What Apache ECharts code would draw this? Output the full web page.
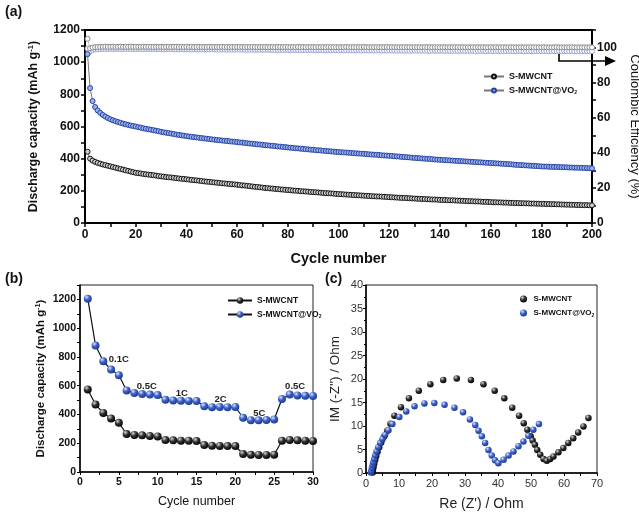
<!DOCTYPE html>
<html>
<head>
<meta charset="utf-8">
<script src="https://cdn.jsdelivr.net/npm/echarts@6/dist/echarts.min.js"></script>
<style>
  html, body { margin: 0; padding: 0; background: #fff; }
  #chart { width: 639px; height: 512px; }
</style>
</head>
<body>
<div id="chart"></div>
<script>
// (a) cycling at 200 cycles, capacity in mAh/g, one value per cycle
const capBare = [
  443, 400, 388, 380, 374, 369, 364, 360, 356, 352, 348, 344, 340, 336, 332, 328, 324, 320, 316, 312,
  310, 308, 305, 303, 301, 299, 297, 295, 292, 290, 288, 286, 284, 283, 281, 279, 277, 275, 274, 272,
  270, 268, 266, 265, 263, 261, 259, 257, 256, 254, 252, 251, 249, 247, 246, 244, 243, 241, 240, 238,
  236, 234, 233, 231, 229, 227, 225, 224, 222, 220, 218, 217, 215, 214, 212, 211, 209, 208, 206, 205,
  204, 202, 201, 200, 198, 197, 196, 195, 193, 192, 191, 190, 188, 187, 186, 185, 184, 183, 181, 180,
  179, 178, 177, 176, 175, 174, 173, 172, 171, 170, 169, 168, 167, 166, 165, 165, 164, 163, 162, 161,
  160, 159, 158, 157, 156, 156, 155, 154, 153, 152, 151, 150, 150, 149, 148, 147, 146, 146, 145, 144,
  143, 143, 142, 141, 141, 140, 139, 139, 138, 137, 136, 136, 135, 134, 134, 133, 132, 132, 131, 130,
  129, 129, 128, 128, 127, 127, 126, 125, 125, 124, 124, 123, 123, 122, 122, 121, 121, 120, 120, 119,
  119, 118, 118, 117, 117, 116, 116, 115, 115, 114, 114, 113, 113, 112, 112, 111, 111, 111, 110, 110
];
const capVO2 = [
  1050, 839, 758, 721, 700, 685, 672, 662, 653, 645, 639, 633, 628, 623, 618, 614, 610, 606, 603, 600,
  596, 593, 589, 586, 583, 580, 577, 574, 571, 567, 564, 561, 559, 556, 553, 550, 548, 545, 543, 540,
  538, 536, 534, 532, 530, 528, 526, 524, 522, 520, 518, 516, 515, 513, 511, 510, 508, 506, 505, 503,
  501, 500, 498, 496, 494, 493, 491, 489, 488, 486, 484, 483, 481, 480, 478, 476, 475, 473, 472, 470,
  468, 467, 465, 464, 462, 461, 459, 458, 456, 455, 453, 452, 451, 449, 448, 447, 445, 444, 442, 441,
  440, 439, 438, 437, 436, 434, 433, 432, 431, 430, 429, 427, 426, 425, 424, 423, 421, 420, 419, 418,
  417, 415, 414, 413, 411, 410, 409, 408, 406, 405, 404, 403, 401, 400, 399, 398, 397, 395, 394, 393,
  392, 391, 390, 389, 388, 387, 386, 385, 384, 383, 382, 381, 380, 379, 378, 377, 376, 375, 374, 373,
  372, 371, 370, 369, 368, 367, 366, 365, 363, 362, 361, 360, 359, 358, 357, 356, 355, 354, 353, 352,
  351, 351, 350, 349, 349, 348, 348, 347, 347, 346, 345, 345, 344, 344, 343, 343, 342, 341, 341, 340
];
// coulombic efficiency (%), right axis
const ceBare = [
  105.0, 99.6, 100.0, 100.2, 100.3, 100.4, 100.4, 100.5, 100.4, 100.4, 100.5, 100.4, 100.4, 100.5, 100.4, 100.4, 100.4, 100.5, 100.4, 100.4,
  100.4, 100.4, 100.5, 100.4, 100.4, 100.4, 100.3, 100.4, 100.4, 100.4, 100.3, 100.4, 100.4, 100.3, 100.4, 100.4, 100.3, 100.4, 100.3, 100.4,
  100.3, 100.4, 100.3, 100.3, 100.4, 100.3, 100.3, 100.3, 100.4, 100.3, 100.3, 100.3, 100.3, 100.4, 100.3, 100.3, 100.3, 100.3, 100.3, 100.3,
  100.3, 100.3, 100.2, 100.3, 100.3, 100.3, 100.3, 100.2, 100.3, 100.3, 100.3, 100.2, 100.3, 100.3, 100.2, 100.3, 100.3, 100.2, 100.3, 100.3,
  100.2, 100.3, 100.2, 100.3, 100.2, 100.3, 100.2, 100.2, 100.3, 100.2, 100.2, 100.3, 100.2, 100.2, 100.2, 100.3, 100.2, 100.2, 100.2, 100.2,
  100.2, 100.2, 100.3, 100.2, 100.2, 100.2, 100.2, 100.2, 100.2, 100.3, 100.2, 100.2, 100.2, 100.2, 100.2, 100.2, 100.2, 100.2, 100.3, 100.2,
  100.2, 100.2, 100.2, 100.1, 100.2, 100.2, 100.2, 100.2, 100.1, 100.2, 100.2, 100.2, 100.1, 100.2, 100.2, 100.2, 100.1, 100.2, 100.2, 100.1,
  100.2, 100.2, 100.1, 100.2, 100.1, 100.2, 100.2, 100.1, 100.2, 100.1, 100.2, 100.1, 100.2, 100.1, 100.2, 100.1, 100.2, 100.1, 100.1, 100.2,
  100.1, 100.2, 100.1, 100.1, 100.2, 100.1, 100.1, 100.2, 100.1, 100.1, 100.1, 100.2, 100.1, 100.1, 100.1, 100.2, 100.1, 100.1, 100.1, 100.1,
  100.2, 100.1, 100.1, 100.1, 100.1, 100.2, 100.1, 100.1, 100.1, 100.1, 100.1, 100.2, 100.1, 100.1, 100.1, 100.1, 100.1, 100.1, 100.2, 100.1
];
const ceVO2 = [
  99.4, 97.8, 98.6, 98.9, 99.0, 99.1, 99.2, 99.2, 99.2, 99.3, 99.2, 99.2, 99.3, 99.2, 99.2, 99.2, 99.3, 99.2, 99.2, 99.1,
  99.2, 99.2, 99.1, 99.2, 99.1, 99.1, 99.2, 99.1, 99.1, 99.1, 99.0, 99.1, 99.1, 99.0, 99.1, 99.0, 99.0, 99.1, 99.0, 99.0,
  99.0, 98.9, 99.0, 99.0, 98.9, 99.0, 98.9, 98.9, 98.9, 99.0, 98.9, 98.9, 98.8, 98.9, 98.9, 98.8, 98.9, 98.8, 98.8, 98.9,
  98.8, 98.8, 98.8, 98.7, 98.8, 98.8, 98.7, 98.8, 98.7, 98.7, 98.7, 98.8, 98.7, 98.7, 98.6, 98.7, 98.7, 98.6, 98.7, 98.6,
  98.6, 98.7, 98.6, 98.6, 98.6, 98.5, 98.6, 98.6, 98.5, 98.6, 98.5, 98.5, 98.6, 98.5, 98.5, 98.5, 98.4, 98.5, 98.5, 98.4,
  98.5, 98.4, 98.4, 98.5, 98.4, 98.4, 98.4, 98.4, 98.3, 98.4, 98.4, 98.3, 98.4, 98.3, 98.3, 98.4, 98.3, 98.3, 98.3, 98.3,
  98.3, 98.3, 98.2, 98.3, 98.3, 98.2, 98.3, 98.2, 98.2, 98.3, 98.2, 98.2, 98.2, 98.2, 98.2, 98.1, 98.2, 98.2, 98.1, 98.2,
  98.2, 98.1, 98.2, 98.1, 98.1, 98.2, 98.1, 98.1, 98.1, 98.1, 98.2, 98.1, 98.1, 98.0, 98.1, 98.1, 98.1, 98.0, 98.1, 98.1,
  98.0, 98.1, 98.0, 98.1, 98.0, 98.0, 98.1, 98.0, 98.0, 98.0, 98.1, 98.0, 98.0, 98.0, 98.0, 97.9, 98.0, 98.0, 98.0, 97.9,
  98.0, 98.0, 97.9, 98.0, 98.0, 97.9, 98.0, 97.9, 98.0, 97.9, 97.9, 98.0, 97.9, 97.9, 98.0, 97.9, 97.9, 97.9, 97.9, 97.9
];

// (b) rate test, 30 cycles
const rateBare = [574, 469, 411, 372, 342, 264, 258, 255, 250, 247, 222, 220, 218, 217, 215,
                  187, 183, 181, 180, 180, 125, 120, 119, 119, 120, 217, 222, 220, 218, 216];
const rateVO2 = [1205, 880, 770, 712, 673, 567, 550, 543, 538, 535, 502, 497, 495, 494, 493,
                 457, 451, 452, 451, 452, 377, 360, 360, 362, 365, 508, 538, 532, 530, 528];
const rateNames = ['0.1C', '0.5C', '1C', '2C', '5C', '0.5C'];
const rateX = [5.0, 8.6, 13.1, 18.1, 23.1, 27.7];
const rateY = [784, 592, 550, 506, 411, 592];

// (c) Nyquist plots
const eisBareX = [2.0, 2.1, 2.3, 2.5, 2.8, 3.1, 3.5, 4.0, 4.6, 5.4, 6.4, 7.4, 8.6, 10.6, 13.0, 16.0, 19.5,
  23.4, 27.5, 31.8, 35.6, 39.0, 41.9, 44.3, 46.4, 47.8, 48.9, 49.9, 50.5, 51.2, 51.9, 52.8, 53.8, 54.8,
  55.8, 56.8, 58.3, 59.8, 61.3, 62.8, 64.3, 65.9, 67.4];
const eisBareY = [0.1, 0.6, 1.3, 2.0, 2.8, 3.6, 4.5, 5.5, 6.5, 7.7, 9.0, 10.5, 12.2, 14.0, 15.9, 17.5, 18.9,
  19.8, 20.1, 19.8, 18.9, 17.5, 15.9, 13.9, 12.2, 10.6, 9.2, 7.8, 6.9, 6.0, 4.9, 3.9, 3.0, 2.6,
  3.0, 3.5, 4.4, 5.3, 6.4, 7.4, 8.6, 9.9, 11.7];
const eisVO2X = [1.5, 1.6, 1.8, 2.0, 2.2, 2.5, 2.8, 3.2, 3.7, 4.3, 5.0, 5.8, 6.8, 8.0, 10.1, 12.2, 14.7, 17.7,
  20.7, 23.8, 26.8, 29.4, 31.5, 33.1, 34.1, 35.1, 36.1, 37.1, 38.1, 39.1, 40.1, 41.7, 43.2, 44.7, 46.2,
  47.7, 49.2, 50.7, 52.4];
const eisVO2Y = [0.1, 0.5, 1.1, 1.7, 2.3, 3.0, 3.8, 4.6, 5.5, 6.4, 7.2, 8.1, 9.1, 10.4, 11.9, 13.1, 14.2, 14.8,
  14.9, 14.5, 13.9, 12.9, 11.4, 10.2, 9.0, 7.8, 6.4, 4.9, 3.7, 2.7, 2.1, 2.8, 3.7, 4.6, 5.7,
  6.7, 7.9, 9.2, 10.4];

const FONT = 'Liberation Sans, Arial, sans-serif';
const byCycle = arr => arr.map((v, i) => [i + 1, v]);
const pairs = (xs, ys) => xs.map((x, i) => [x, ys[i]]);

function ball(hi, mid, dark) {
  return {
    type: 'radial', x: 0.35, y: 0.3, r: 0.75,
    colorStops: [{ offset: 0, color: hi }, { offset: 0.45, color: mid }, { offset: 1, color: dark }]
  };
}
const blackBall = ball('#d8d8d8', '#333', '#000');
const blueBall = ball('#dfe6fb', '#3d62c8', '#1b3591');

function every(step) {
  return v => (Math.abs(v / step - Math.round(v / step)) < 1e-6 ? String(v) : '');
}

function valueAxis(opt) {
  return Object.assign({
    type: 'value',
    splitLine: { show: false },
    axisLine: { show: true, onZero: false, lineStyle: { color: '#000', width: 2 } },
    axisTick: { show: true, length: 4, lineStyle: { color: '#000', width: 1.5 } },
    axisLabel: { color: '#111', fontFamily: FONT, fontWeight: 'bold', fontSize: 12, margin: 5 },
    nameLocation: 'middle',
    nameTextStyle: { color: '#111', fontFamily: FONT, fontWeight: 'bold', fontSize: 13 }
  }, opt);
}

const legendRich = {
  sub: { fontSize: 5, fontWeight: 'bold', fontFamily: FONT, color: '#111', verticalAlign: 'bottom', padding: [5, 0, 0, 0] }
};
const legendFormatter = n => n.slice(2).replace('VO2', 'VO{sub|2}');
const supRich = size => ({
  sup: { fontSize: size * 0.62, fontWeight: 'bold', fontFamily: FONT, color: '#111', verticalAlign: 'top', padding: [0, 0, size * 0.5, 0] }
});

const chart = echarts.init(document.getElementById('chart'), null, { renderer: 'canvas' });

const option = {
  animation: false,
  backgroundColor: '#fff',
  textStyle: { fontFamily: FONT },
  grid: [
    { left: 85, top: 30, width: 507, height: 193, show: true, borderColor: '#000', borderWidth: 2, outerBoundsMode: 'none', containLabel: false },
    { left: 80, top: 285, width: 233, height: 187, show: true, borderColor: '#222', borderWidth: 1, outerBoundsMode: 'none', containLabel: false },
    { left: 366, top: 285, width: 231, height: 188, show: true, borderColor: '#222', borderWidth: 1, outerBoundsMode: 'none', containLabel: false }
  ],
  xAxis: [
    valueAxis({
      gridIndex: 0, min: 0, max: 200, interval: 10,
      axisLabel: { color: '#111', fontFamily: FONT, fontWeight: 'bold', fontSize: 12, margin: 6, formatter: every(20) },
      name: 'Cycle number', nameGap: 28,
      nameTextStyle: { color: '#111', fontFamily: FONT, fontWeight: 'bold', fontSize: 14.5 }
    }),
    valueAxis({
      gridIndex: 1, min: 0, max: 30, interval: 2.5,
      axisLine: { show: true, onZero: false, lineStyle: { color: '#000', width: 1.5 } },
      axisTick: { show: true, length: 3, lineStyle: { color: '#000', width: 1 } },
      axisLabel: { color: '#111', fontFamily: FONT, fontWeight: 'bold', fontSize: 10.5, margin: 5, formatter: every(5) },
      name: 'Cycle number', nameGap: 23,
      nameTextStyle: { color: '#111', fontFamily: FONT, fontSize: 12.5 }
    }),
    valueAxis({
      gridIndex: 2, min: 0, max: 70, interval: 5,
      axisLine: { show: true, onZero: false, lineStyle: { color: '#000', width: 1.5 } },
      axisTick: { show: true, length: 3, lineStyle: { color: '#000', width: 1 } },
      axisLabel: { color: '#333', fontFamily: FONT, fontSize: 11, margin: 5, formatter: every(10) },
      name: "Re (Z') / Ohm", nameGap: 24,
      nameTextStyle: { color: '#222', fontFamily: FONT, fontSize: 14 }
    })
  ],
  yAxis: [
    valueAxis({
      gridIndex: 0, min: 0, max: 1200, interval: 100,
      axisLabel: { color: '#111', fontFamily: FONT, fontWeight: 'bold', fontSize: 12, margin: 5, formatter: every(200) },
      name: 'Discharge capacity (mAh g{sup|-1})', nameGap: 44,
      nameTextStyle: { color: '#111', fontFamily: FONT, fontWeight: 'bold', fontSize: 12.5, rich: supRich(12.5) }
    }),
    valueAxis({
      gridIndex: 0, position: 'right', min: 0, max: 110, interval: 10,
      axisLabel: { color: '#111', fontFamily: FONT, fontWeight: 'bold', fontSize: 12, margin: 5, formatter: v => (v % 20 === 0 && v <= 100 ? String(v) : '') },
      name: 'Coulombic Efficiency (%)', nameGap: 31, nameRotate: -90,
      nameTextStyle: { color: '#111', fontFamily: FONT, fontSize: 13 }
    }),
    valueAxis({
      gridIndex: 1, min: 0, max: 1300, interval: 100,
      axisLine: { show: true, onZero: false, lineStyle: { color: '#000', width: 1.5 } },
      axisTick: { show: true, length: 3, lineStyle: { color: '#000', width: 1 } },
      axisLabel: { color: '#111', fontFamily: FONT, fontWeight: 'bold', fontSize: 10.5, margin: 4, formatter: v => (v % 200 === 0 && v <= 1200 ? String(v) : '') },
      name: 'Discharge capacity (mAh g{sup|-1})', nameGap: 33,
      nameTextStyle: { color: '#111', fontFamily: FONT, fontWeight: 'bold', fontSize: 11.5, rich: supRich(11.5) }
    }),
    valueAxis({
      gridIndex: 2, min: 0, max: 40, interval: 5,
      axisLine: { show: true, onZero: false, lineStyle: { color: '#000', width: 1.5 } },
      axisTick: { show: true, length: 3, lineStyle: { color: '#000', width: 1 } },
      minorTick: { show: true, splitNumber: 2, length: 2, lineStyle: { color: '#000' } },
      axisLabel: { color: '#333', fontFamily: FONT, fontSize: 11, margin: 3 },
      name: "IM (-Z'') / Ohm", nameGap: 24,
      nameTextStyle: { color: '#222', fontFamily: FONT, fontSize: 13.5 }
    })
  ],
  legend: [
    {
      data: ['a:S-MWCNT', 'a:S-MWCNT@VO2'], orient: 'vertical', left: 478, top: 67,
      itemWidth: 20, itemHeight: 5, itemGap: 5, formatter: legendFormatter,
      textStyle: { fontFamily: FONT, fontWeight: 'bold', fontSize: 9, color: '#111', rich: legendRich }
    },
    {
      data: ['b:S-MWCNT', 'b:S-MWCNT@VO2'], orient: 'vertical', left: 222, top: 291,
      itemWidth: 24, itemHeight: 8, itemGap: 5, formatter: legendFormatter,
      textStyle: { fontFamily: FONT, fontWeight: 'bold', fontSize: 8.5, color: '#111', rich: legendRich }
    },
    {
      data: ['c:S-MWCNT', 'c:S-MWCNT@VO2'], orient: 'vertical', left: 515, top: 290,
      itemWidth: 10, itemHeight: 7, itemGap: 6, formatter: legendFormatter,
      textStyle: { fontFamily: FONT, fontWeight: 'bold', fontSize: 8, color: '#111', rich: legendRich }
    }
  ],
  series: [
    {
      name: 'CE VO2', type: 'line', xAxisIndex: 0, yAxisIndex: 1, data: byCycle(ceVO2),
      symbol: 'circle', symbolSize: 5, showSymbol: true,
      lineStyle: { color: '#c8cde8', width: 0.8 },
      itemStyle: { color: '#fff', borderColor: '#9aa5dc', borderWidth: 1 }
    },
    {
      name: 'CE bare', type: 'line', xAxisIndex: 0, yAxisIndex: 1, data: byCycle(ceBare),
      symbol: 'circle', symbolSize: 5, showSymbol: true,
      lineStyle: { color: '#bbb', width: 0.8 },
      itemStyle: { color: '#fff', borderColor: '#8a8a8a', borderWidth: 1 }
    },
    {
      name: 'a:S-MWCNT', type: 'line', xAxisIndex: 0, yAxisIndex: 0, data: byCycle(capBare),
      symbol: 'circle', symbolSize: 5, showSymbol: true,
      lineStyle: { color: '#777', width: 1 },
      itemStyle: { color: '#cfcfcf', borderColor: '#111', borderWidth: 1 }
    },
    {
      name: 'a:S-MWCNT@VO2', type: 'line', xAxisIndex: 0, yAxisIndex: 0, data: byCycle(capVO2),
      symbol: 'circle', symbolSize: 5, showSymbol: true,
      lineStyle: { color: '#777', width: 1 },
      itemStyle: { color: '#9fb0e4', borderColor: '#2444a8', borderWidth: 1 }
    },
    {
      name: 'b:S-MWCNT', type: 'line', xAxisIndex: 1, yAxisIndex: 2, data: byCycle(rateBare),
      symbol: 'circle', symbolSize: 8, showSymbol: true,
      lineStyle: { color: '#111', width: 1.2 },
      itemStyle: { color: blackBall, borderWidth: 0 }
    },
    {
      name: 'b:S-MWCNT@VO2', type: 'line', xAxisIndex: 1, yAxisIndex: 2, data: byCycle(rateVO2),
      symbol: 'circle', symbolSize: 8, showSymbol: true,
      lineStyle: { color: '#111', width: 1.2 },
      itemStyle: { color: blueBall, borderWidth: 0 },
      markPoint: {
        symbol: 'circle', symbolSize: 1, itemStyle: { color: 'rgba(0,0,0,0)' },
        label: { show: true, position: 'inside', formatter: '{b}', color: '#222', fontFamily: FONT, fontWeight: 'bold', fontSize: 9.5 },
        data: rateNames.map((n, i) => ({ name: n, coord: [rateX[i], rateY[i]] }))
      }
    },
    {
      name: 'c:S-MWCNT', type: 'scatter', xAxisIndex: 2, yAxisIndex: 3, data: pairs(eisBareX, eisBareY),
      symbol: 'circle', symbolSize: 6.5,
      itemStyle: { color: blackBall, opacity: 1 }
    },
    {
      name: 'c:S-MWCNT@VO2', type: 'scatter', xAxisIndex: 2, yAxisIndex: 3, data: pairs(eisVO2X, eisVO2Y),
      symbol: 'circle', symbolSize: 6.5,
      itemStyle: { color: blueBall, opacity: 1 }
    }
  ],
  graphic: [
    { type: 'text', left: 5, top: 5, style: { text: '(a)', font: 'bold 14px ' + FONT, fill: '#111' } },
    { type: 'text', left: 5, top: 272, style: { text: '(b)', font: 'bold 14px ' + FONT, fill: '#111' } },
    { type: 'text', left: 325, top: 272, style: { text: '(c)', font: 'bold 14px ' + FONT, fill: '#111' } },
    { type: 'polyline', shape: { points: [[559, 54], [559, 61], [607, 61]] }, style: { stroke: '#000', lineWidth: 1.6, fill: null } },
    { type: 'polygon', shape: { points: [[605, 56], [616, 61], [605, 66]] }, style: { fill: '#000' } }
  ]
};

chart.setOption(option);
</script>
</body>
</html>
